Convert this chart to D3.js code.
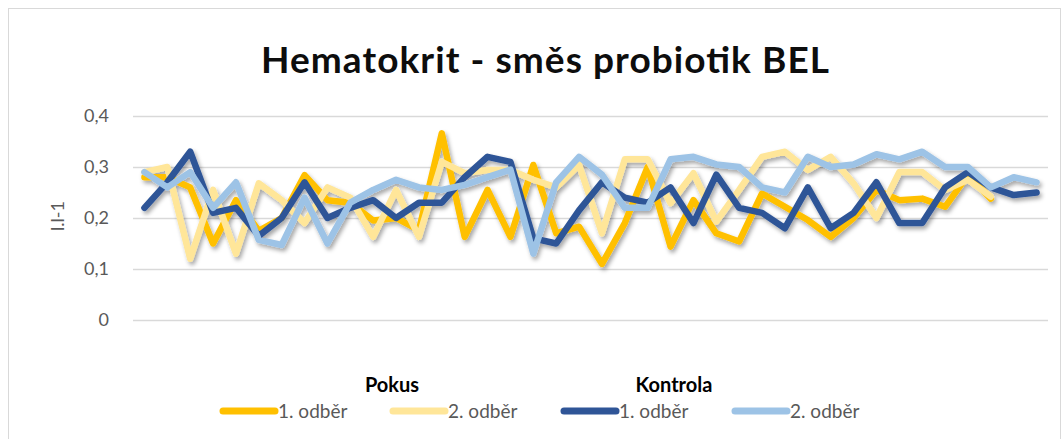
<!DOCTYPE html>
<meta charset='utf-8'>
<title>Hematokrit - směs probiotik BEL</title>
<style>
html, body {
  margin: 0;
  padding: 0;
  background: #ffffff;
}
text { font-family: Lato, 'Open Sans', sans-serif; }
</style>
<script src='https://d3js.org/d3.v7.min.js'></script>
<body>
<svg id='chart' width='1064' height='439'></svg>
<script>
// Values, one per sampling day.
var pokus1 = [0.28, 0.28, 0.26, 0.15, 0.235, 0.175, 0.20, 0.284, 0.235, 0.23,
  0.195, 0.20, 0.176, 0.366, 0.163, 0.255, 0.163, 0.304, 0.17, 0.183,
  0.11, 0.19, 0.30, 0.144, 0.235, 0.17, 0.154, 0.248, 0.222, 0.196,
  0.163, 0.20, 0.255, 0.235, 0.238, 0.222, 0.284, 0.238];
var pokus2 = [0.29, 0.30, 0.12, 0.255, 0.13, 0.268, 0.235, 0.19, 0.26, 0.24,
  0.163, 0.255, 0.163, 0.31, 0.288, 0.294, 0.294, 0.275, 0.26, 0.304,
  0.17, 0.315, 0.315, 0.229, 0.288, 0.193, 0.255, 0.32, 0.33, 0.294,
  0.32, 0.268, 0.20, 0.29, 0.29, 0.255, 0.275, 0.242];
var kontrola1 = [0.22, 0.27, 0.33, 0.21, 0.22, 0.165, 0.20, 0.27, 0.20, 0.22,
  0.235, 0.20, 0.23, 0.23, 0.28, 0.32, 0.31, 0.16, 0.15, 0.215,
  0.27, 0.24, 0.23, 0.26, 0.19, 0.285, 0.22, 0.21, 0.18, 0.26,
  0.18, 0.21, 0.27, 0.19, 0.19, 0.26, 0.29, 0.26, 0.245, 0.25];
var kontrola2 = [0.29, 0.26, 0.29, 0.22, 0.27, 0.157, 0.147, 0.24, 0.15, 0.23,
  0.255, 0.275, 0.26, 0.255, 0.265, 0.28, 0.295, 0.13, 0.27, 0.32,
  0.285, 0.22, 0.22, 0.315, 0.32, 0.305, 0.30, 0.26, 0.25, 0.32,
  0.30, 0.305, 0.325, 0.315, 0.33, 0.30, 0.30, 0.26, 0.28, 0.27];
var categories = d3.range(1, 41);
var yTicks = [0, 0.1, 0.2, 0.3, 0.4];

var series = [
  { name: '1. odběr', group: 'Pokus', values: pokus1, color: '#FFC000' },
  { name: '2. odběr', group: 'Pokus', values: pokus2, color: '#FFE699' },
  { name: '1. odběr', group: 'Kontrola', values: kontrola1, color: '#2F5597' },
  { name: '2. odběr', group: 'Kontrola', values: kontrola2, color: '#9DC3E6' }
];

var svg = d3.select('#chart');

// Shadow under the lines, like the Office preset
var defs = svg.append('defs');
defs.append('filter')
  .attr('id', 'shadow')
  .attr('x', '-10%').attr('y', '-10%')
  .attr('width', '120%').attr('height', '130%')
  .append('feDropShadow')
  .attr('dx', 2).attr('dy', 3)
  .attr('stdDeviation', 2.2)
  .attr('flood-color', '#000')
  .attr('flood-opacity', 0.35);

// Chart frame
svg.append('rect')
  .attr('x', 8.5).attr('y', 8.5)
  .attr('width', 1052).attr('height', 440)
  .attr('fill', 'none')
  .attr('stroke', '#d9d9d9');

var x = d3.scaleBand()
  .domain(categories)
  .range([133, 1048]);

var y = d3.scaleLinear()
  .domain([0, 0.4])
  .range([320, 116]);

// Title
svg.append('text')
  .attr('x', 545).attr('y', 73)
  .attr('text-anchor', 'middle')
  .attr('font-size', '37px')
  .attr('font-weight', 'bold')
  .attr('fill', '#0d0d0d')
  .attr('textLength', 568)
  .attr('lengthAdjust', 'spacing')
  .text('Hematokrit - směs probiotik BEL');

// Gridlines + tick labels via axis
var yAxis = d3.axisLeft(y)
  .tickValues(yTicks)
  .tickSize(-(1048 - 133))
  .tickPadding(24)
  .tickFormat(function (d) { return d === 0 ? '0' : d3.format('.1f')(d).replace('.', ','); });

var gAxis = svg.append('g')
  .attr('transform', 'translate(133,0)')
  .call(yAxis);
gAxis.select('.domain').remove();
gAxis.selectAll('.tick line')
  .attr('stroke', '#d9d9d9')
  .attr('stroke-width', 1.3);
gAxis.selectAll('.tick text')
  .attr('fill', '#595959')
  .attr('font-size', '18px')
  .attr('font-family', 'Lato, sans-serif');

// Axis title
svg.append('text')
  .attr('transform', 'translate(64,216)rotate(-90)')
  .attr('text-anchor', 'middle')
  .attr('font-size', '18px')
  .attr('fill', '#595959')
  .text('l.l-1');

// Lines
var line = d3.line()
  .x(function (d, i) { return x(categories[i]) + x.bandwidth() / 2; })
  .y(function (d) { return y(d); });

svg.append('g')
  .attr('filter', 'url(#shadow)')
  .selectAll('path')
  .data(series)
  .enter()
    .append('path')
    .attr('d', function (d) { return line(d.values); })
    .attr('fill', 'none')
    .attr('stroke', function (d) { return d.color; })
    .attr('stroke-width', 6.5)
    .attr('stroke-linejoin', 'round')
    .attr('stroke-linecap', 'round');

// Legend
var legendX = [220, 390, 561, 732];
var swatch = 58;

svg.selectAll('.group-title')
  .data([{ t: 'Pokus', cx: 392 }, { t: 'Kontrola', cx: 674 }])
  .enter()
    .append('text')
    .attr('class', 'group-title')
    .attr('x', function (d) { return d.cx; })
    .attr('y', 392)
    .attr('text-anchor', 'middle')
    .attr('font-size', '20px')
    .attr('font-weight', 'bold')
    .attr('fill', '#000')
    .text(function (d) { return d.t; });

var leg = svg.selectAll('.legend')
  .data(series)
  .enter()
    .append('g')
    .attr('class', 'legend')
    .attr('transform', function (d, i) { return 'translate(' + legendX[i] + ',411)'; });

leg.append('line')
  .attr('x1', 3).attr('x2', swatch - 3)
  .attr('y1', 0).attr('y2', 0)
  .attr('stroke', function (d) { return d.color; })
  .attr('stroke-width', 7)
  .attr('stroke-linecap', 'round');

leg.append('text')
  .attr('x', swatch)
  .attr('y', 6.5)
  .attr('font-size', '19px')
  .attr('fill', '#595959')
  .text(function (d) { return d.name; });
</script>
</body>
